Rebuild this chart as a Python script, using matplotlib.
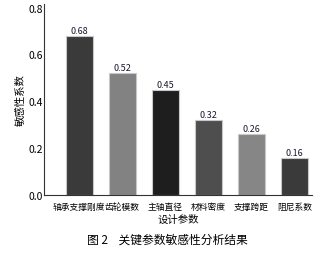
import numpy as np
import matplotlib.pyplot as plt

plt.rcParams['font.family'] = ['Noto Sans CJK SC', 'DejaVu Sans']

params = ['轴承支撑刚度', '齿轮模数', '主轴直径', '材料密度', '支撑跨距', '阻尼系数']
sens = [0.68, 0.52, 0.45, 0.32, 0.26, 0.16]
colours = ['#3a3a3a', '#828282', '#1e1e1e', '#4e4e4e', '#868686', '#3a3a3a']

fig = plt.figure(figsize=(3.27, 2.55), dpi=100)
ax = fig.add_axes([44/327, 59/255, 268/327, 191/255])

x = np.arange(len(params))
ax.bar(x, sens, width=0.63, color=colours, edgecolor='#c8c8c8', linewidth=0.8)
for xi, v in zip(x, sens):
    ax.text(xi, v + 0.003, f'{v:.2f}', ha='center', va='bottom', fontsize=6.5, color='#1a1a30')

ax.set_xlim(-0.82, 5.4)
ax.set_ylim(0, 0.815)
ax.set_yticks([0, 0.2, 0.4, 0.6, 0.8])
ax.set_yticklabels(['0.0', '0.2', '0.4', '0.6', '0.8'])
ax.set_xticks(x)
ax.set_xticklabels(params, fontsize=6.3)
ax.tick_params(axis='y', labelsize=7.5, length=0, pad=1)
ax.tick_params(axis='x', length=0, pad=5)
ax.spines['top'].set_visible(False)
ax.spines['right'].set_visible(False)
ax.spines['left'].set_color('#333333')
ax.spines['bottom'].set_color('#333333')
ax.set_xlabel('设计参数', fontsize=7.5, labelpad=2)
ax.set_ylabel('敏感性系数', fontsize=7.5, labelpad=2)

fig.text(167/327, 1 - 240/255, '图 2    关键参数敏感性分析结果', ha='center', va='center', fontsize=8.5)

fig.savefig('out.png', dpi=100)
